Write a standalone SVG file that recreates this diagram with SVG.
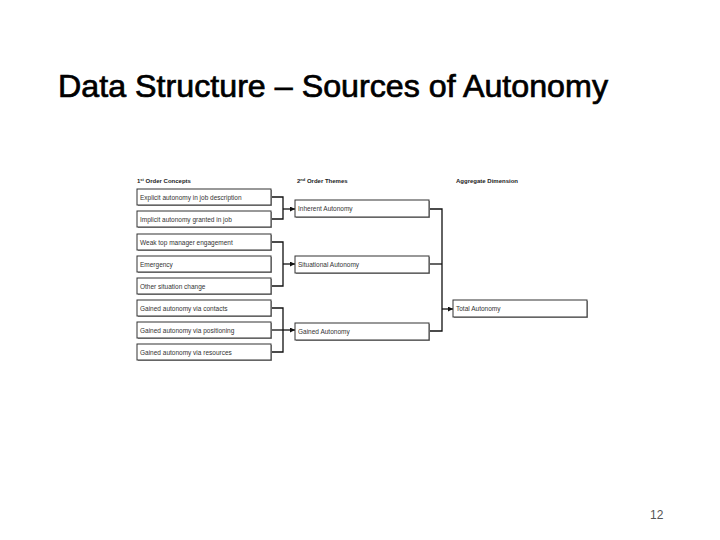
<svg xmlns="http://www.w3.org/2000/svg" width="720" height="540" viewBox="0 0 720 540">
<defs>
<marker id="arr" viewBox="0 0 10 10" refX="10" refY="5" markerWidth="5" markerHeight="5" orient="auto" markerUnits="userSpaceOnUse">
<path d="M0,0 L10,5 L0,10 z" fill="#111"/>
</marker>
</defs>
<style>
.t{font-family:"Liberation Sans",Arial,sans-serif;fill:#000}
.h{font-family:"Liberation Sans",Arial,sans-serif;font-size:6px;font-weight:bold;fill:#222}
.b{fill:#fff;stroke:#333;stroke-width:1}
.s{fill:#999}
.l{font-family:"Liberation Sans",Arial,sans-serif;font-size:6.5px;fill:#333}
.c{fill:none;stroke:#111;stroke-width:1.3}
</style>
<rect width="720" height="540" fill="#fff"/>
<text class="t" x="58" y="97" font-size="32" stroke="#000" stroke-width="0.7" textLength="550" lengthAdjust="spacingAndGlyphs">Data Structure – Sources of Autonomy</text>
<text class="t" x="650" y="519" font-size="12" style="fill:#555">12</text>

<text class="h" x="137" y="183">1<tspan font-size="4" dy="-2">st</tspan><tspan dy="2"> Order Concepts</tspan></text>
<text class="h" x="297" y="183">2<tspan font-size="4" dy="-2">nd</tspan><tspan dy="2"> Order Themes</tspan></text>
<text class="h" x="456" y="183">Aggregate Dimension</text>

<g id="connectors">
<path class="c" d="M271,197 H283 V219 H271"/>
<path class="c" d="M283,209 H295" marker-end="url(#arr)"/>
<path class="c" d="M271,242 H283 V286 H271"/>
<path class="c" d="M283,264 H295" marker-end="url(#arr)"/>
<path class="c" d="M271,308 H283 V352 H271"/>
<path class="c" d="M271,330 H295" marker-end="url(#arr)"/>
<path class="c" d="M430,209 H442 V331 H430"/>
<path class="c" d="M430,264 H442"/>
<path class="c" d="M442,309 H453" marker-end="url(#arr)"/>
</g>

<g id="c1"><rect class="s" x="138" y="190" width="134" height="16"/><rect class="b" x="137" y="189" width="134" height="16"/><text class="l" x="140" y="199.5">Explicit autonomy in job description</text></g>
<g id="c2"><rect class="s" x="138" y="212" width="134" height="16"/><rect class="b" x="137" y="211" width="134" height="16"/><text class="l" x="140" y="221.5">Implicit autonomy granted in job</text></g>
<g id="c3"><rect class="s" x="138" y="235" width="134" height="16"/><rect class="b" x="137" y="234" width="134" height="16"/><text class="l" x="140" y="244.5">Weak top manager engagement</text></g>
<g id="c4"><rect class="s" x="138" y="257" width="134" height="16"/><rect class="b" x="137" y="256" width="134" height="16"/><text class="l" x="140" y="266.5">Emergency</text></g>
<g id="c5"><rect class="s" x="138" y="279" width="134" height="16"/><rect class="b" x="137" y="278" width="134" height="16"/><text class="l" x="140" y="288.5">Other situation change</text></g>
<g id="c6"><rect class="s" x="138" y="301" width="134" height="16"/><rect class="b" x="137" y="300" width="134" height="16"/><text class="l" x="140" y="310.5">Gained autonomy via contacts</text></g>
<g id="c7"><rect class="s" x="138" y="323" width="134" height="16"/><rect class="b" x="137" y="322" width="134" height="16"/><text class="l" x="140" y="332.5">Gained autonomy via positioning</text></g>
<g id="c8"><rect class="s" x="138" y="345" width="134" height="16"/><rect class="b" x="137" y="344" width="134" height="16"/><text class="l" x="140" y="354.5">Gained autonomy via resources</text></g>

<g id="t1"><rect class="s" x="296" y="201" width="134" height="17"/><rect class="b" x="295" y="200" width="134" height="17"/><text class="l" x="298" y="211">Inherent Autonomy</text></g>
<g id="t2"><rect class="s" x="296" y="257" width="134" height="17"/><rect class="b" x="295" y="256" width="134" height="17"/><text class="l" x="298" y="267">Situational Autonomy</text></g>
<g id="t3"><rect class="s" x="296" y="324" width="134" height="17"/><rect class="b" x="295" y="323" width="134" height="17"/><text class="l" x="298" y="334">Gained Autonomy</text></g>

<g id="agg"><rect class="s" x="454" y="301" width="134" height="17"/><rect class="b" x="453" y="300" width="134" height="17"/><text class="l" x="456" y="311">Total Autonomy</text></g>
</svg>
